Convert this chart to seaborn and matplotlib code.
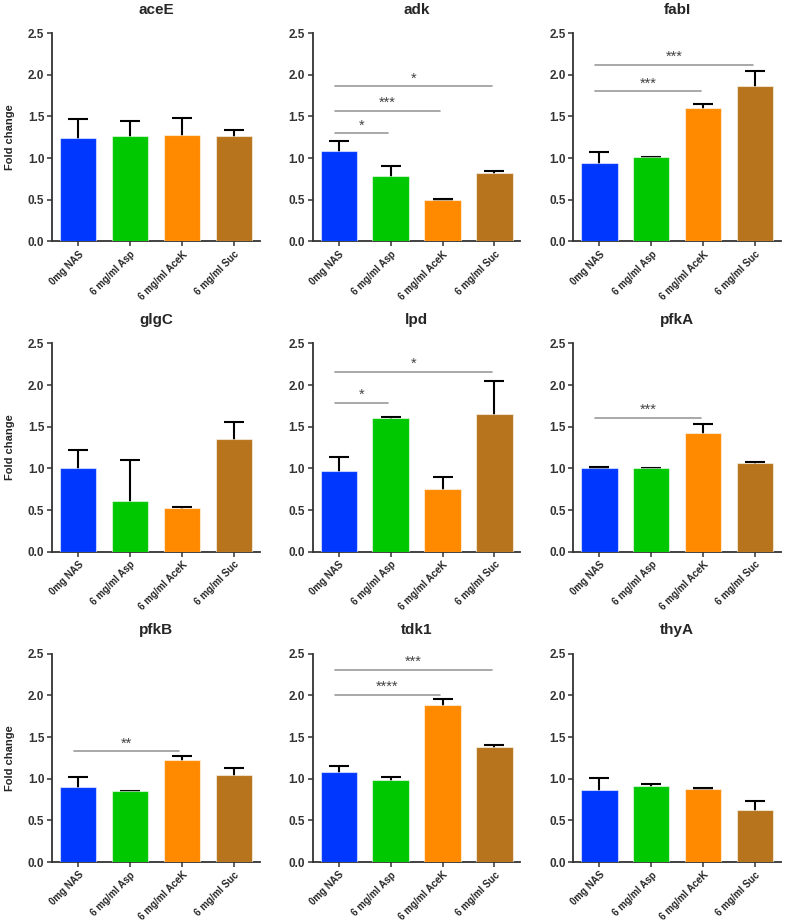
import numpy as np
import pandas as pd
import matplotlib
matplotlib.use("Agg")
import matplotlib.pyplot as plt
import seaborn as sns

conditions = ["0mg NAS", "6 mg/ml Asp", "6 mg/ml AceK", "6 mg/ml Suc"]
colors = ["#0037FF", "#00C800", "#FF8A00", "#B7741C"]
genes = ["aceE", "adk", "fabI", "glgC", "lpd", "pfkA", "pfkB", "tdk1", "thyA"]

# mean fold change per condition
means = {
    "aceE": [1.24, 1.26, 1.28, 1.26],
    "adk": [1.09, 0.78, 0.50, 0.82],
    "fabI": [0.94, 1.01, 1.60, 1.87],
    "glgC": [1.01, 0.61, 0.52, 1.35],
    "lpd": [0.97, 1.60, 0.75, 1.65],
    "pfkA": [1.01, 1.00, 1.43, 1.06],
    "pfkB": [0.90, 0.85, 1.22, 1.05],
    "tdk1": [1.08, 0.98, 1.89, 1.38],
    "thyA": [0.86, 0.91, 0.88, 0.63],
}
# upper error (SEM)
errors = {
    "aceE": [0.23, 0.18, 0.20, 0.08],
    "adk": [0.11, 0.12, 0.01, 0.03],
    "fabI": [0.13, 0.005, 0.05, 0.17],
    "glgC": [0.21, 0.49, 0.02, 0.21],
    "lpd": [0.17, 0.02, 0.15, 0.40],
    "pfkA": [0.01, 0.005, 0.10, 0.02],
    "pfkB": [0.12, 0.005, 0.05, 0.08],
    "tdk1": [0.07, 0.04, 0.07, 0.03],
    "thyA": [0.15, 0.03, 0.005, 0.10],
}
# significance brackets: (from, to, height, stars)
signif = {
    "adk": [(0, 1, 1.30, "*"), (0, 2, 1.57, "***"), (0, 3, 1.86, "*")],
    "fabI": [(0, 2, 1.80, "***"), (0, 3, 2.12, "***")],
    "lpd": [(0, 1, 1.79, "*"), (0, 3, 2.16, "*")],
    "pfkA": [(0, 2, 1.61, "***")],
    "pfkB": [(0, 2, 1.33, "**")],
    "tdk1": [(0, 2, 2.01, "****"), (0, 3, 2.31, "***")],
}
yticks = [0.0, 0.5, 1.0, 1.5, 2.0, 2.5]

sns.set_style("ticks")
plt.rcParams["font.family"] = ["Liberation Sans", "DejaVu Sans"]
plt.rcParams["font.weight"] = "bold"

fig, axes = plt.subplots(3, 3, figsize=(7.89, 9.21), dpi=100)
fig.subplots_adjust(left=0.066, right=0.99, top=0.964, bottom=0.064,
                    wspace=0.255, hspace=0.49)

for i, (gene, ax) in enumerate(zip(genes, axes.flat)):
    df = pd.DataFrame({"condition": conditions, "value": means[gene],
                       "err": errors[gene]})
    sns.barplot(data=df, x="condition", y="value", hue="condition",
                palette=colors, saturation=1, legend=False, errorbar=None,
                width=0.7, edgecolor=(1, 1, 1, 0.55), linewidth=0.8, ax=ax,
                zorder=3)
    ax.errorbar(np.arange(len(conditions)), df["value"], yerr=df["err"],
                fmt="none", ecolor="black", elinewidth=1.5, capsize=7.5,
                capthick=1.5, zorder=1)
    for a, b, h, stars in signif.get(gene, []):
        ax.plot([a - 0.08, b - 0.05], [h, h], color="#9a9a9a", lw=1.2,
                zorder=4)
        ax.text((a + b) / 2 - 0.06, h + 0.01, stars, ha="center",
                va="bottom", fontsize=10.5, fontweight="normal",
                color="#444444")
    ax.set_ylim(0, 2.5)
    ax.set_xlim(-0.5, 3.5)
    ax.set_yticks(yticks)
    ax.set_yticklabels([f"{t:.1f}" for t in yticks], fontsize=8.5,
                       fontweight="bold", color="#333333")
    ax.set_xticks(range(len(conditions)))
    ax.set_xticklabels(conditions, rotation=45, ha="right",
                       rotation_mode="anchor", fontsize=7,
                       fontweight="bold")
    ax.set_title(gene, fontsize=11, fontweight="bold", pad=14)
    ax.set_xlabel("")
    if i % 3 == 0:
        ax.set_ylabel("Fold change", fontsize=8, fontweight="bold",
                      labelpad=9)
    else:
        ax.set_ylabel("")
    sns.despine(ax=ax)
    for s in ["left", "bottom"]:
        ax.spines[s].set_linewidth(1.3)
        ax.spines[s].set_color("#333333")
    ax.tick_params(axis="both", width=1.1, length=3.5, color="#333333",
                   pad=2)

fig.savefig("out.png", dpi=100)
